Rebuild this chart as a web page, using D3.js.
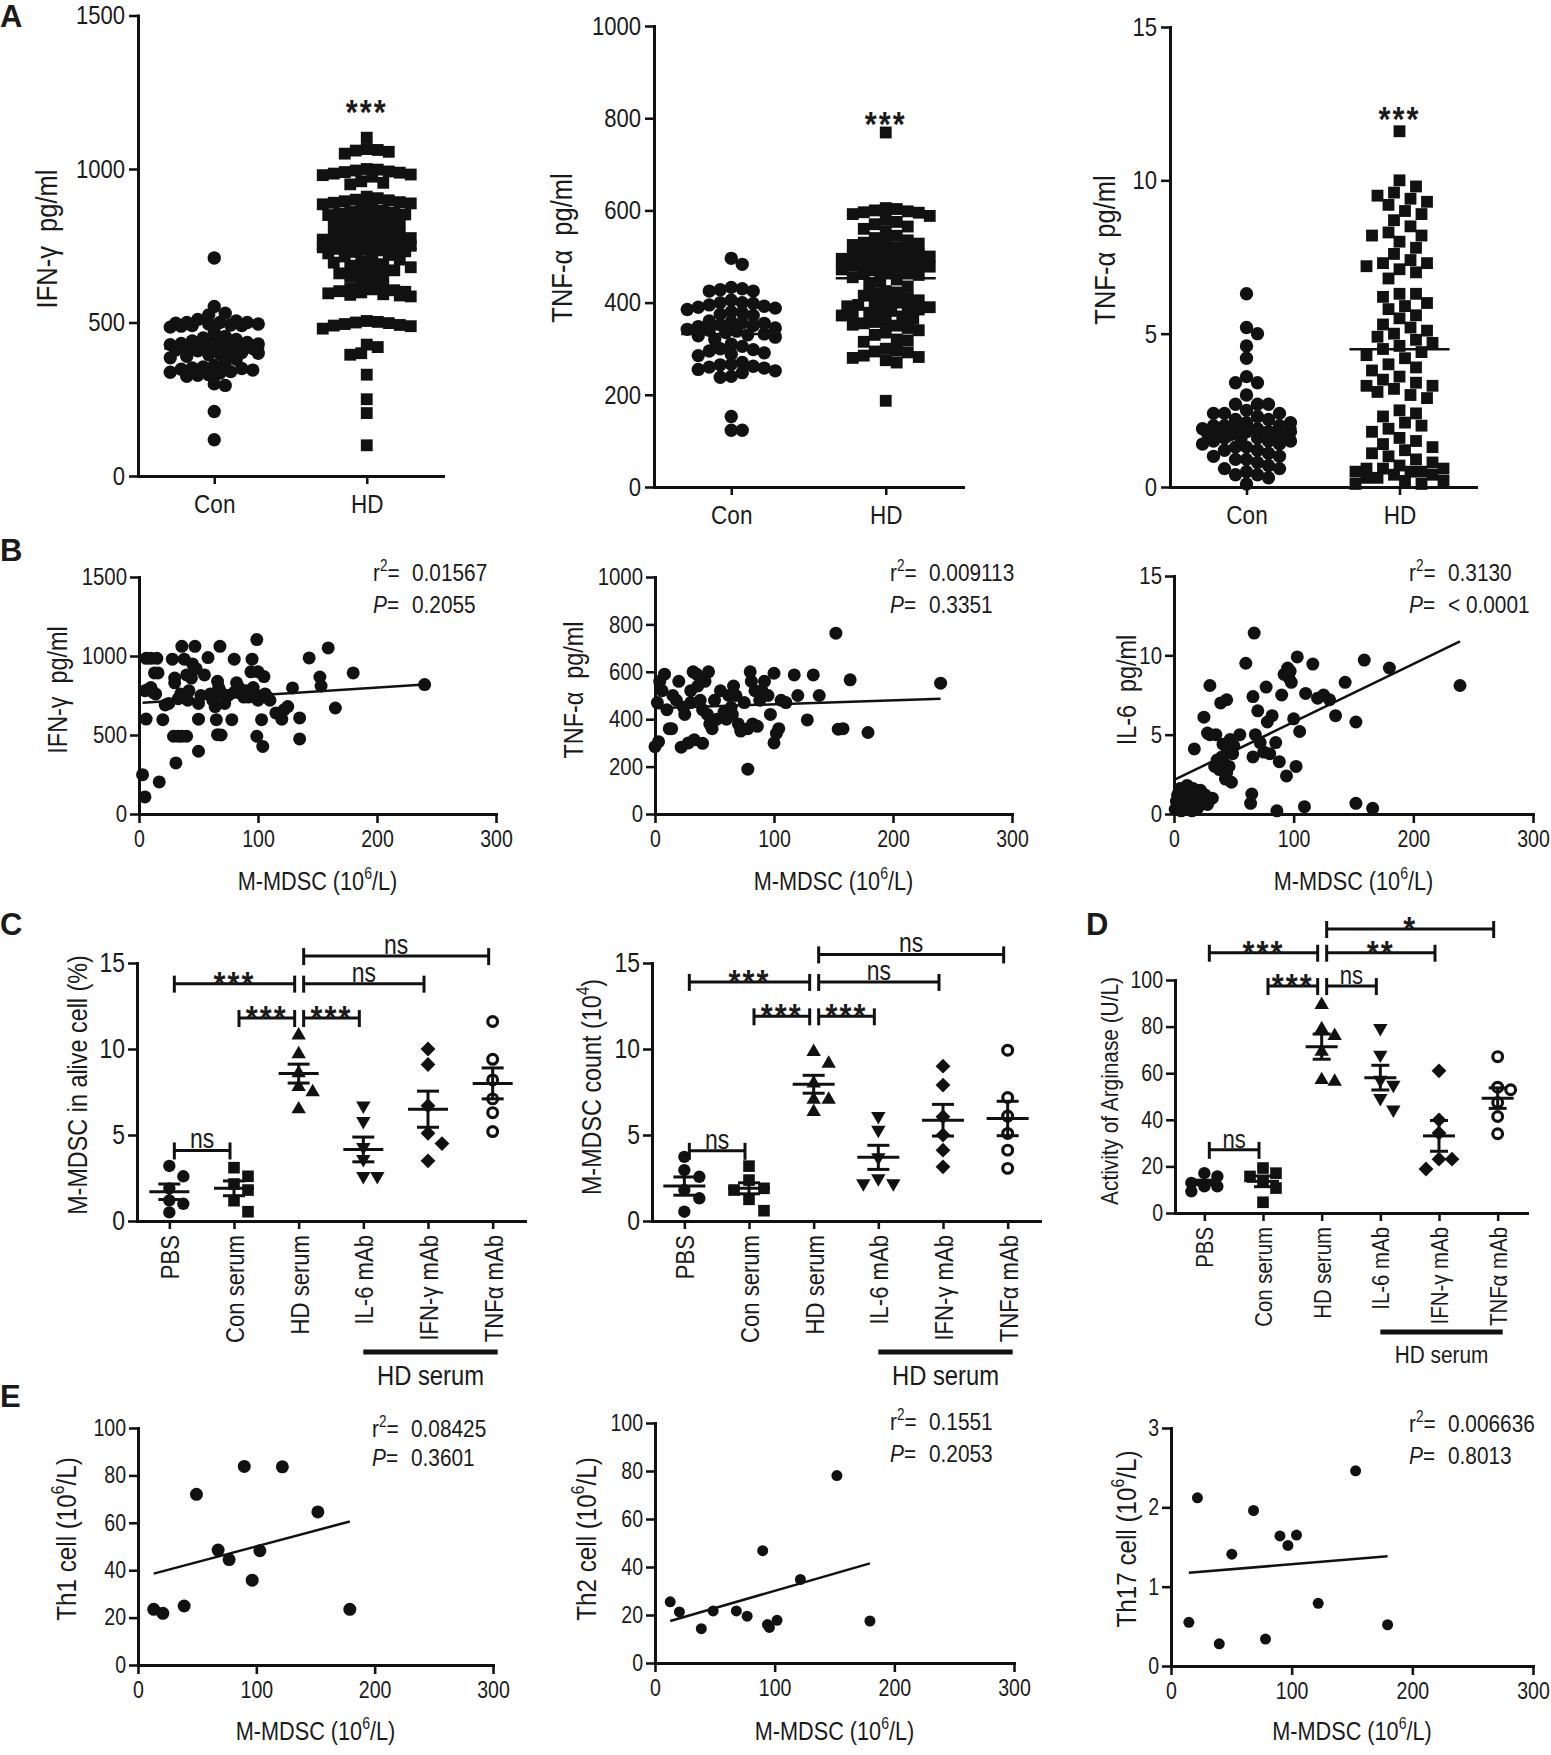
<!DOCTYPE html>
<html><head><meta charset="utf-8">
<script src="https://cdn.jsdelivr.net/npm/d3@7"></script>
<style>
body{margin:0;background:#fff}
svg text{fill:#1a1a1a;white-space:pre}
</style>
</head><body>
<svg id="fig" width="1551" height="1755" xmlns="http://www.w3.org/2000/svg"></svg>
<script>
// ================= DATA =================
// Panel A : Con vs HD serum cytokines
const groupsA = ["Con", "HD"];
const a1Con = [710,552,530,525,510,505,500,500,500,498,495,495,492,490,490,488,485,470,455,450,445,440,438,435,432,430,428,425,422,420,418,415,412,410,408,405,402,400,398,395,390,385,380,370,360,355,352,350,348,345,340,338,335,330,328,325,300,295,210,118];
const a1HD = [1102,1065,1062,1060,1056,1050,
  1000,998,995,992,990,988,985,982,980,975,960,955,950,
  910,905,900,898,895,892,890,888,885,880,875,
  865,860,858,855,852,850,848,845,840,835,830,825,820,815,810,805,800,
  795,790,785,780,778,775,772,770,768,765,762,760,758,755,752,750,748,745,742,740,738,735,732,730,725,720,715,710,705,700,
  695,690,685,680,675,670,665,660,655,650,640,630,620,
  612,608,605,602,600,598,595,592,590,588,585,
  505,502,500,498,495,492,490,488,480,
  428,420,400,395,330,250,205,100];
const a1Mean = [415, 740];
const a1Ticks = [0, 500, 1000, 1500];

const a2Con = [496,483,433,430,428,425,425,405,400,400,398,395,392,390,388,385,380,378,375,372,360,358,356,355,352,350,348,345,342,340,338,335,332,330,328,325,320,310,305,300,298,295,291,288,285,270,266,265,262,260,258,255,252,248,240,238,153,123,123];
const a2HD = [769,605,603,600,598,596,595,592,588,580,575,570,565,560,555,545,540,535,532,530,528,525,520,515,512,510,508,505,502,500,498,495,492,490,488,485,482,480,478,475,472,470,468,465,462,460,455,450,445,440,435,425,422,420,415,410,405,402,400,398,395,392,390,388,385,382,380,378,375,372,370,365,360,358,355,352,350,345,340,335,330,320,318,315,300,296,294,292,285,282,280,275,270,187];
const a2Mean = [332, 453];
const a2Ticks = [0, 200, 400, 600, 800, 1000];

const a3Con = [6.3,5.2,5.0,4.6,4.2,3.6,3.4,3.4,3.0,2.7,2.7,2.7,2.5,2.4,2.4,2.4,2.3,2.2,2.2,2.1,2.1,2.0,2.0,2.0,1.9,1.9,1.9,1.8,1.8,1.8,1.8,1.7,1.7,1.7,1.6,1.6,1.6,1.5,1.5,1.5,1.4,1.4,1.3,1.3,1.2,1.2,1.1,1.0,1.0,0.9,0.9,0.8,0.7,0.6,0.6,0.5,0.4,0.4,0.3,0.1];
const a3HD = [11.6,10.0,9.8,9.6,9.5,9.4,9.3,9.2,9.0,8.9,8.7,8.5,8.3,8.2,8.2,8.0,7.8,7.6,7.4,7.3,7.3,7.2,7.1,7.0,6.8,6.3,6.3,6.2,6.0,5.9,5.8,5.6,5.5,5.3,5.2,5.1,5.0,4.9,4.8,4.7,4.6,4.5,4.4,4.3,4.2,4.0,3.9,3.8,3.6,3.5,3.4,3.3,3.3,3.2,3.1,3.0,2.9,2.5,2.4,2.3,2.1,2.0,1.9,1.8,1.6,1.5,1.4,1.3,1.2,1.1,1.0,0.9,0.8,0.7,0.6,0.6,0.6,0.5,0.5,0.5,0.4,0.4,0.3,0.3,0.2,0.2,0.1,0.1];
const a3Mean = [1.93, 4.49];
const a3Ticks = [0, 5, 10, 15];
const aStars = [1215, 807, 12.3];   // y value of the "***" mark

// Panel B : M-MDSC vs cytokines  [M-MDSC, cytokine]
const b1Points = [[3,249],[5,108],[6,601],[5,780],[8,790],[10,800],[12,770],[6,985],[10,985],[15,985],[13,893],[16,893],[14,760],[17,203],
 [20,597],[22,690],[25,700],[28,980],[30,860],[30,830],[31,323],[29,492],[33,492],[33,730],[35,760],[36,492],[36,1061],[38,980],[40,492],[40,880],[41,720],[42,780],[44,860],[45,950],
 [47,1061],[48,920],[50,397],[50,600],[50,700],[52,750],[55,880],[58,990],[60,760],[62,720],[64,680],[65,597],[66,502],[66,840],[67,800],[68,1061],[68,780],[69,500],[70,760],[72,700],
 [75,750],[78,597],[80,980],[80,770],[82,830],[84,800],[86,760],[88,740],[90,780],[92,740],[94,900],[95,980],[96,800],[97,760],[99,1104],[99,492],[100,900],[100,720],
 [103,597],[104,428],[105,870],[106,760],[108,740],[110,720],[115,640],[120,600],[122,660],[125,680],[129,798],
 [135,608],[135,475],[143,988],[152,867],[153,810],[159,1051],[165,671],[180,893],[240,819]];
const b1Fit = [702, 0.49];            // intercept, slope
const b1Stats = ["0.01567", "0.2055"];
const b1Ticks = [0, 500, 1000, 1500];

const b2Points = [[0,284],[3,305],[2,470],[4,560],[6,520],[8,590],[10,440],[12,360],[14,360],[15,500],[18,480],[20,560],[22,282],[24,450],[25,420],[28,300],[30,470],[30,520],[32,600],[33,313],[35,590],[36,540],[38,480],[40,440],[40,298],[42,560],[44,420],[45,600],[46,380],[48,360],[50,480],[52,400],[55,520],[58,430],[60,400],[62,500],[64,450],[65,420],[66,540],[68,500],[70,380],[72,350],[75,470],[78,189],[78,360],[80,600],[81,560],[82,380],[84,520],[86,370],[88,480],[90,520],[92,560],[95,500],[97,420],[100,594],[100,300],[102,340],[104,360],[106,480],[110,470],[117,587],[120,500],[128,397],[133,587],[138,500],[152,763],[154,358],[158,360],[164,566],[179,344],[240,552]];
const b2Fit = [446, 0.17];
const b2Stats = ["0.009113", "0.3351"];
const b2Ticks = [0, 200, 400, 600, 800, 1000];

const b3Points = [[1,0.3],[2,0.8],[3,1.2],[4,0.5],[5,1.6],[6,0.2],[7,1.0],[8,0.6],[9,1.4],[10,0.3],[11,1.8],[12,0.9],[13,0.5],[14,1.2],[15,0.2],[16,1.6],[17,4.1],[18,0.7],[19,1.0],[20,0.4],[22,1.5],[24,0.8],[25,6.1],[26,1.2],[28,5.1],[28,0.6],[30,8.1],[30,5.0],[32,1.0],[34,3.0],[35,5.0],[36,3.4],[38,2.8],[39,7.0],[40,3.6],[41,4.4],[42,3.2],[43,2.2],[44,7.2],[44,2.6],[45,4.0],[46,3.0],[47,4.7],[48,2.0],[49,3.8],[50,4.3],[55,5.0],[60,9.5],[64,0.67],[65,1.26],[66,7.4],[66,3.6],[67,11.4],[68,5.0],[70,6.5],[72,4.5],[75,3.9],[77,8.0],[78,5.8],[80,3.8],[82,6.2],[85,4.5],[86,0.2],[88,3.3],[90,7.5],[92,8.8],[94,2.4],[95,9.2],[96,8.6],[97,9.0],[98,8.3],[100,6.0],[102,3.0],[103,9.9],[105,5.2],[109,0.46],[110,7.6],[116,9.45],[120,7.3],[125,7.5],[130,7.2],[135,6.2],[143,8.3],[152,5.8],[152,0.67],[159,9.7],[166,0.36],[180,9.2],[239,8.1]];
const b3Fit = [2.14, 0.0366];
const b3Stats = ["0.3130", "< 0.0001"];
const b3Ticks = [0, 5, 10, 15];
const mdscTicks = [0, 100, 200, 300];

// Panels C / D : treatments
const treatCats = ["PBS", "Con serum", "HD serum", "IL-6 mAb", "IFN-γ mAb", "TNFα mAb"];
const c1Values = [[3.2,2.6,1.9,1.2,1.0,0.5],[3.1,2.6,2.15,1.8,1.18,0.54],[10.8,9.7,8.6,7.8,7.5,6.5],[6.7,5.8,4.3,3.6,2.6,2.6],[10.0,9.1,6.7,5.1,4.5,3.5],[11.6,9.4,8.2,7.1,6.3,5.2]];
const c1Mean = [1.70, 1.90, 8.57, 4.16, 6.50, 8.00];
const c1Sem = [0.45, 0.43, 0.55, 0.72, 1.05, 0.90];
const c1Brackets = [["PBS","HD serum",13.8,"***"],["Con serum","HD serum",11.8,"***"],["HD serum","IL-6 mAb",11.8,"***"],["HD serum","IFN-γ mAb",13.8,"ns"],["HD serum","TNFα mAb",15.4,"ns"],["PBS","Con serum",4.1,"ns"]];
const c2Values = [[3.73,2.96,2.57,1.8,1.32,0.54],[3.19,2.38,1.9,1.8,1.26,0.6],[9.83,9.15,8.0,7.06,7.06,6.35],[6.1,5.3,3.7,2.48,2.19,2.19],[9.0,7.9,6.06,5.0,4.12,3.15],[9.93,7.18,6.1,5.09,4.12,3.06]];
const c2Mean = [2.03, 1.90, 7.95, 3.70, 5.86, 5.96];
const c2Sem = [0.53, 0.32, 0.52, 0.70, 0.92, 1.00];
const c2Brackets = [["PBS","HD serum",13.9,"***"],["Con serum","HD serum",11.9,"***"],["HD serum","IL-6 mAb",11.9,"***"],["HD serum","IFN-γ mAb",13.9,"ns"],["HD serum","TNFα mAb",15.5,"ns"],["PBS","Con serum",4.08,"ns"]];
const cTicks = [0, 5, 10, 15];
const dValues = [[17.1,15.7,12.9,11.4,11.4,9.3],[19.3,17.1,15.7,13.6,10.7,4.6],[89.3,78.9,76.0,69.3,57.1,56.4],[79.3,67.9,57.1,55.0,49.3,44.3],[61.0,40.0,34.3,23.1,23.1,18.9],[67.1,54.0,52.9,47.4,41.4,34.0]];
const dMean = [13.1, 13.6, 71.4, 58.1, 33.1, 49.3];
const dSem = [1.0, 2.3, 5.4, 5.3, 6.6, 4.4];
const dBrackets = [["PBS","HD serum",111.7,"***"],["Con serum","HD serum",97.4,"***"],["HD serum","IL-6 mAb",97.4,"ns"],["HD serum","IFN-γ mAb",111.7,"**"],["HD serum","TNFα mAb",121.9,"*"],["PBS","Con serum",27.1,"ns"]];
const dTicks = [0, 20, 40, 60, 80, 100];

// Panel E : M-MDSC vs Th cells
const e1Points = [[13.3,23.5],[21,21.8],[39,24.9],[49.4,72],[67.7,48.5],[77,44.5],[89.8,83.8],[96.5,35.8],[103,48.2],[122,83.6],[152,64.6],[179,23.5]];
const e1Fit = [36.8, 0.1327];
const e1Stats = ["0.08425", "0.3601"];
const e2Points = [[12.7,25.5],[20.4,21.3],[38.7,14.3],[48.6,21.7],[68,21.7],[77,19.5],[90,46.8],[94,16.0],[95.6,14.8],[102,17.8],[121.5,34.8],[152,78.1],[179.6,17.5]];
const e2Fit = [15.7, 0.1438];
const e2Stats = ["0.1551", "0.2053"];
const e3Points = [[14.8,0.55],[21.9,2.12],[40,0.28],[50.4,1.41],[68.4,1.96],[78.3,0.34],[90.3,1.64],[96.9,1.52],[104,1.65],[122,0.79],[153,2.46],[179.5,0.52]];
const e3Fit = [1.156, 0.001267];
const e3Stats = ["0.006636", "0.8013"];
const thTicks = [0, 20, 40, 60, 80, 100];
const th17Ticks = [0, 1, 2, 3];

// ================= DRAWING =================
const FF = "'Liberation Sans', Arial, Helvetica, sans-serif";
const SX = 0.85;          // horizontal condensing of the figure's lettering
const INK = "#111";
const svg = d3.select("#fig").attr("font-family", FF);
svg.append("rect").attr("width",1551).attr("height",1755).attr("fill","#fff");

function styleAxis(ax, fs, sw){
  ax.attr("font-family", null).attr("font-size", null);
  ax.select(".domain").attr("stroke", INK).attr("stroke-width", sw).attr("stroke-linecap","square");
  ax.selectAll(".tick line").attr("stroke", INK).attr("stroke-width", sw*0.85);
  ax.selectAll(".tick text").attr("fill", "#222").attr("font-size", fs);
}
function rich(g, x, y, parts, o){
  const t = g.append("text")
    .attr("transform", `translate(${x},${y})` + (o.rot ? ` rotate(${o.rot})` : ""))
    .attr("text-anchor", o.anchor || "middle").attr("font-size", o.fs);
  if (o.fw) t.attr("font-weight", o.fw);
  if (o.ls) t.attr("letter-spacing", o.ls);
  let up = false;
  parts.forEach(p => {
    const ts = t.append("tspan").text(p.t);
    if (p.sup) { ts.attr("font-size", o.fs*0.65).attr("dy", -o.fs*0.42); up = true; }
    else if (up) { ts.attr("dy", o.fs*0.42); up = false; }
    if (p.it) ts.attr("font-style", "italic");
  });
  return t;
}
const sym = (type, area) => d3.symbol().type(type).size(area)();

// deterministic swarm placement: returns horizontal offsets
function swarm(values, y, minD, step, maxW){
  const pts = values.map((v,i)=>({v, i, py:y(v)})).sort((a,b)=>a.py-b.py);
  const placed = [];
  const out = new Array(values.length);
  pts.forEach(p => {
    const cands = [0];
    for (let k=1; k*step<=maxW+0.01; k++){ cands.push(k*step, -k*step); }
    let best = 0, bestD = -1;
    for (const c of cands){
      let md = Infinity;
      for (const q of placed){ const d = Math.hypot(q.dx-c, q.py-p.py); if (d<md) md=d; }
      if (md >= minD){ best = c; break; }
      if (md > bestD){ bestD = md; best = c; }
    }
    placed.push({dx:best, py:p.py});
    out[p.i] = best;
  });
  return out;
}

function panelLetter(ch, x, y){
  svg.append("text").attr("class","plain").attr("x", x).attr("y", y).attr("font-size", 31).attr("font-weight", "bold").text(ch);
}

// ---------- A ----------
function panelA(cfg, con, hd, means, ticks, ylabel, starV){
  const g = svg.append("g");
  const y = d3.scaleLinear().domain(cfg.dom).range([cfg.y0, cfg.y1]);
  const x = d3.scalePoint().domain(groupsA).range([cfg.x0, cfg.x1]).padding(0.5);
  const ya = g.append("g").attr("transform", `translate(${cfg.x0},0)`)
    .call(d3.axisLeft(y).tickValues(ticks).tickFormat(d3.format("d")).tickSize(9).tickPadding(4).tickSizeOuter(0));
  styleAxis(ya, 26, 3);
  const xa = g.append("g").attr("transform", `translate(0,${cfg.y0})`)
    .call(d3.axisBottom(x).tickSize(8).tickPadding(10).tickSizeOuter(0));
  styleAxis(xa, 26.5, 3);
  const sets = [[con, d3.symbolCircle, 140, cfg.md[0]], [hd, d3.symbolSquare, 140, cfg.md[1]]];
  sets.forEach(([vals, type, area, md], gi) => {
    const offs = swarm(vals, y, md, 5.5, 44);
    g.append("g").selectAll("path").data(vals).join("path")
      .attr("d", sym(type, area))
      .attr("transform", (v,i) => `translate(${x(groupsA[gi]) + offs[i]},${y(v)})`)
      .attr("fill", INK);
  });
  g.append("g").selectAll("line").data(means).join("line")
    .attr("x1", (m,i)=>x(groupsA[i])-50).attr("x2", (m,i)=>x(groupsA[i])+50)
    .attr("y1", m=>y(m)).attr("y2", m=>y(m)).attr("stroke", INK).attr("stroke-width", 2.5);
  g.append("text").attr("x", 0).attr("transform", `translate(${x("HD")},${y(starV)+21})`)
    .attr("text-anchor","middle").attr("font-size", 36).attr("font-weight","bold").attr("letter-spacing", 2.5).text("***");
  rich(g, cfg.lx, cfg.ly, [{t: ylabel}], {rot:-90, fs:30});
}
panelLetter("A", 0, 27);
panelA({x0:138, x1:443, y0:476, y1:15.5, dom:[0,1500], lx:57, ly:239, md:[9.5,9.5]}, a1Con, a1HD, a1Mean, a1Ticks, "IFN-γ  pg/ml", aStars[0]);
panelA({x0:654, x1:963, y0:487, y1:26, dom:[0,1000], lx:572, ly:248, md:[10,10]}, a2Con, a2HD, a2Mean, a2Ticks, "TNF-α  pg/ml", aStars[1]);
panelA({x0:1170, x1:1476, y0:487, y1:27, dom:[0,15], lx:1115, ly:250, md:[11,13]}, a3Con, a3HD, a3Mean, a3Ticks, "TNF-α  pg/ml", aStars[2]);

// ---------- scatter (B, E) ----------
function scatter(cfg, pts, fit, stats, yTicks, ylabParts, r){
  const g = svg.append("g");
  const x = d3.scaleLinear().domain([0,300]).range([cfg.x0, cfg.x1]);
  const y = d3.scaleLinear().domain(cfg.dom).range([cfg.y0, cfg.y1]);
  const ya = g.append("g").attr("transform", `translate(${cfg.x0},0)`)
    .call(d3.axisLeft(y).tickValues(yTicks).tickFormat(d3.format("d")).tickSize(9).tickPadding(3).tickSizeOuter(0));
  styleAxis(ya, cfg.tfs, 3);
  const xa = g.append("g").attr("transform", `translate(0,${cfg.y0})`)
    .call(d3.axisBottom(x).tickValues(mdscTicks).tickSize(9).tickPadding(8).tickSizeOuter(0));
  styleAxis(xa, cfg.xtfs, 3);
  g.append("g").selectAll("path").data(pts).join("path")
    .attr("d", sym(d3.symbolCircle, Math.PI*r*r))
    .attr("transform", d => `translate(${x(d[0])},${y(d[1])})`).attr("fill", INK);
  const ext = d3.extent(pts, d=>d[0]);
  g.append("line").attr("x1", x(ext[0])).attr("x2", x(ext[1]))
    .attr("y1", y(fit[0]+fit[1]*ext[0])).attr("y2", y(fit[0]+fit[1]*ext[1]))
    .attr("stroke", INK).attr("stroke-width", 2.5);
  rich(g, cfg.ylx, cfg.yly, ylabParts, {rot:-90, fs:cfg.yfs});
  rich(g, (cfg.x0+cfg.x1)/2 + cfg.xlo, cfg.xly, [{t:"M-MDSC (10"},{t:"6",sup:true},{t:"/L)"}], {fs:cfg.xfs});
  rich(g, cfg.sx, cfg.sy1, [{t:"r"},{t:"2",sup:true},{t:"="}], {anchor:"start", fs:cfg.sfs});
  rich(g, cfg.sx, cfg.sy2, [{t:"P", it:true},{t:"="}], {anchor:"start", fs:cfg.sfs});
  rich(g, cfg.sx+39, cfg.sy1, [{t:stats[0]}], {anchor:"start", fs:cfg.sfs});
  rich(g, cfg.sx+39, cfg.sy2, [{t:stats[1]}], {anchor:"start", fs:cfg.sfs});
}
panelLetter("B", 0, 561);
const bBase = {y0:814, tfs:24, xtfs:23, yfs:27.5, xfs:25.5, xly:890, sfs:24.5, sy1:581, sy2:613, xlo:0, yly:690};
scatter({...bBase, x0:139, x1:496, y1:577, dom:[0,1500], ylx:67, sx:373}, b1Points, b1Fit, b1Stats, b1Ticks, [{t:"IFN-γ  pg/ml"}], 6.5);
scatter({...bBase, x0:655, x1:1012, y1:577, dom:[0,1000], ylx:583, sx:890}, b2Points, b2Fit, b2Stats, b2Ticks, [{t:"TNF-α  pg/ml"}], 6.5);
scatter({...bBase, x0:1174, x1:1533, y1:576, dom:[0,15], ylx:1136, sx:1409}, b3Points, b3Fit, b3Stats, b3Ticks, [{t:"IL-6  pg/ml"}], 6.5);

panelLetter("E", 0, 1407);
const eBase = {tfs:23, xtfs:23, yfs:28.5, xfs:25.5, xly:1740, sfs:24.5, xlo:0, yly:1539};
scatter({...eBase, x0:138, x1:493, y0:1665, y1:1428, dom:[0,100], ylx:76, sx:372, sy1:1437, sy2:1466}, e1Points, e1Fit, e1Stats, thTicks, [{t:"Th1 cell (10"},{t:"6",sup:true},{t:"/L)"}], 6.5);
scatter({...eBase, x0:655, x1:1014, y0:1663, y1:1423, dom:[0,100], ylx:596, sx:890, sy1:1430, sy2:1462}, e2Points, e2Fit, e2Stats, thTicks, [{t:"Th2 cell (10"},{t:"6",sup:true},{t:"/L)"}], 5.5);
scatter({...eBase, x0:1171, x1:1533, y0:1666, y1:1428, dom:[0,3], ylx:1136, sx:1409, sy1:1432, sy2:1464}, e3Points, e3Fit, e3Stats, th17Ticks, [{t:"Th17 cell (10"},{t:"6",sup:true},{t:"/L)"}], 5.5);

// ---------- C / D ----------
const catSym = [
  {type:d3.symbolCircle, area:120, rot:0},
  {type:d3.symbolSquare, area:135, rot:0},
  {type:d3.symbolTriangle, area:90, rot:0},
  {type:d3.symbolTriangle, area:90, rot:180},
  {type:d3.symbolSquare, area:110, rot:45},
  {type:d3.symbolCircle, area:75, rot:0, open:true}
];
function panelC(cfg, values, means, sems, brackets, ticks, ylabParts){
  const g = svg.append("g");
  const y = d3.scaleLinear().domain(cfg.dom).range([cfg.y0, cfg.y1]);
  const x = d3.scalePoint().domain(treatCats).range([cfg.x0, cfg.x1]).padding(0.5);
  const ya = g.append("g").attr("transform", `translate(${cfg.x0},0)`)
    .call(d3.axisLeft(y).tickValues(ticks).tickFormat(d3.format("d")).tickSize(9).tickPadding(3).tickSizeOuter(0));
  styleAxis(ya, cfg.tfs, 3);
  const xa = g.append("g").attr("transform", `translate(0,${cfg.y0})`)
    .call(d3.axisBottom(x).tickSize(8).tickSizeOuter(0));
  styleAxis(xa, cfg.cfs, 3);
  xa.selectAll(".tick text").attr("transform","rotate(-90)").attr("text-anchor","end")
    .attr("x", -14).attr("y", 0).attr("dy", "0.36em");
  values.forEach((vals, ci) => {
    const s = catSym[ci];
    const offs = swarm(vals, y, 12, cfg.jit, 24);
    g.append("g").selectAll("path").data(vals).join("path")
      .attr("d", sym(s.type, s.area))
      .attr("transform", (v,i) => `translate(${x(treatCats[ci]) + offs[i]},${y(v)}) rotate(${s.rot})`)
      .attr("fill", s.open ? "#fff" : INK).attr("stroke", s.open ? INK : "none").attr("stroke-width", 3.2);
  });
  // mean ± SEM
  means.forEach((m, ci) => {
    const cx = x(treatCats[ci]);
    const ln = (x1,y1,x2,y2) => g.append("line").attr("x1",x1).attr("y1",y1).attr("x2",x2).attr("y2",y2).attr("stroke",INK).attr("stroke-width",3);
    ln(cx-cfg.mw, y(m), cx+cfg.mw, y(m));
    ln(cx, y(m+sems[ci]), cx, y(m-sems[ci]));
    ln(cx-cfg.cw, y(m+sems[ci]), cx+cfg.cw, y(m+sems[ci]));
    ln(cx-cfg.cw, y(m-sems[ci]), cx+cfg.cw, y(m-sems[ci]));
  });
  // significance brackets
  brackets.forEach(([a, b, v, lab]) => {
    const xa1 = x(a) + 5, xb1 = x(b) - 4, yy = y(v);
    const bg = g.append("g").attr("stroke", INK).attr("stroke-width", 3);
    bg.append("line").attr("x1", xa1).attr("x2", xb1).attr("y1", yy).attr("y2", yy);
    bg.append("line").attr("x1", xa1).attr("x2", xa1).attr("y1", yy-8).attr("y2", yy+9);
    bg.append("line").attr("x1", xb1).attr("x2", xb1).attr("y1", yy-8).attr("y2", yy+9);
    const star = lab.includes("*");
    g.append("text").attr("x", 0).attr("transform", `translate(${(xa1+xb1)/2},${yy + (star ? 12 : -2)})`)
      .attr("text-anchor","middle").attr("font-size", star ? 36 : cfg.nsfs)
      .attr("font-weight", star ? "bold" : "normal").attr("letter-spacing", star ? 2.5 : 0).text(lab);
  });
  // HD serum group bar
  const gx1 = x("IL-6 mAb"), gx2 = x("TNFα mAb") + 5;
  g.append("line").attr("x1", gx1).attr("x2", gx2).attr("y1", cfg.gby).attr("y2", cfg.gby)
    .attr("stroke", INK).attr("stroke-width", 5);
  rich(g, (gx1+gx2)/2, cfg.gty, [{t:"HD serum"}], {fs:cfg.gfs});
  rich(g, cfg.ylx, cfg.yly, ylabParts, {rot:-90, fs:cfg.yfs});
}
panelLetter("C", 0, 935);
panelC({x0:137, x1:525, y0:1221, y1:963, dom:[0,15], tfs:27, cfs:26, jit:14, mw:20, cw:11, nsfs:27,
        gby:1352, gty:1385, gfs:28, ylx:87, yly:1085, yfs:27.5},
  c1Values, c1Mean, c1Sem, c1Brackets, cTicks, [{t:"M-MDSC in alive cell (%)"}]);
panelC({x0:652, x1:1040, y0:1221, y1:963, dom:[0,15], tfs:27, cfs:26, jit:15, mw:21, cw:11, nsfs:27,
        gby:1352, gty:1385, gfs:28, ylx:601, yly:1087, yfs:27.5},
  c2Values, c2Mean, c2Sem, c2Brackets, cTicks, [{t:"M-MDSC count (10"},{t:"4",sup:true},{t:")"}]);
panelLetter("D", 1086, 935);
panelC({x0:1175, x1:1527, y0:1213, y1:980, dom:[0,100], tfs:23, cfs:24, jit:13, mw:16, cw:9, nsfs:26,
        gby:1332, gty:1363, gfs:24.5, ylx:1118, yly:1091, yfs:24.5},
  dValues, dMean, dSem, dBrackets, dTicks, [{t:"Activity of Arginase (U/L)"}]);

// condense lettering horizontally (along the text direction)
svg.selectAll("text:not(.plain)").each(function(){
  const t = d3.select(this);
  const x0 = +(t.attr("x") || 0);
  t.attr("x", x0 / SX).attr("transform", (t.attr("transform") || "") + ` scale(${SX},1)`);
});
</script>
</body></html>
